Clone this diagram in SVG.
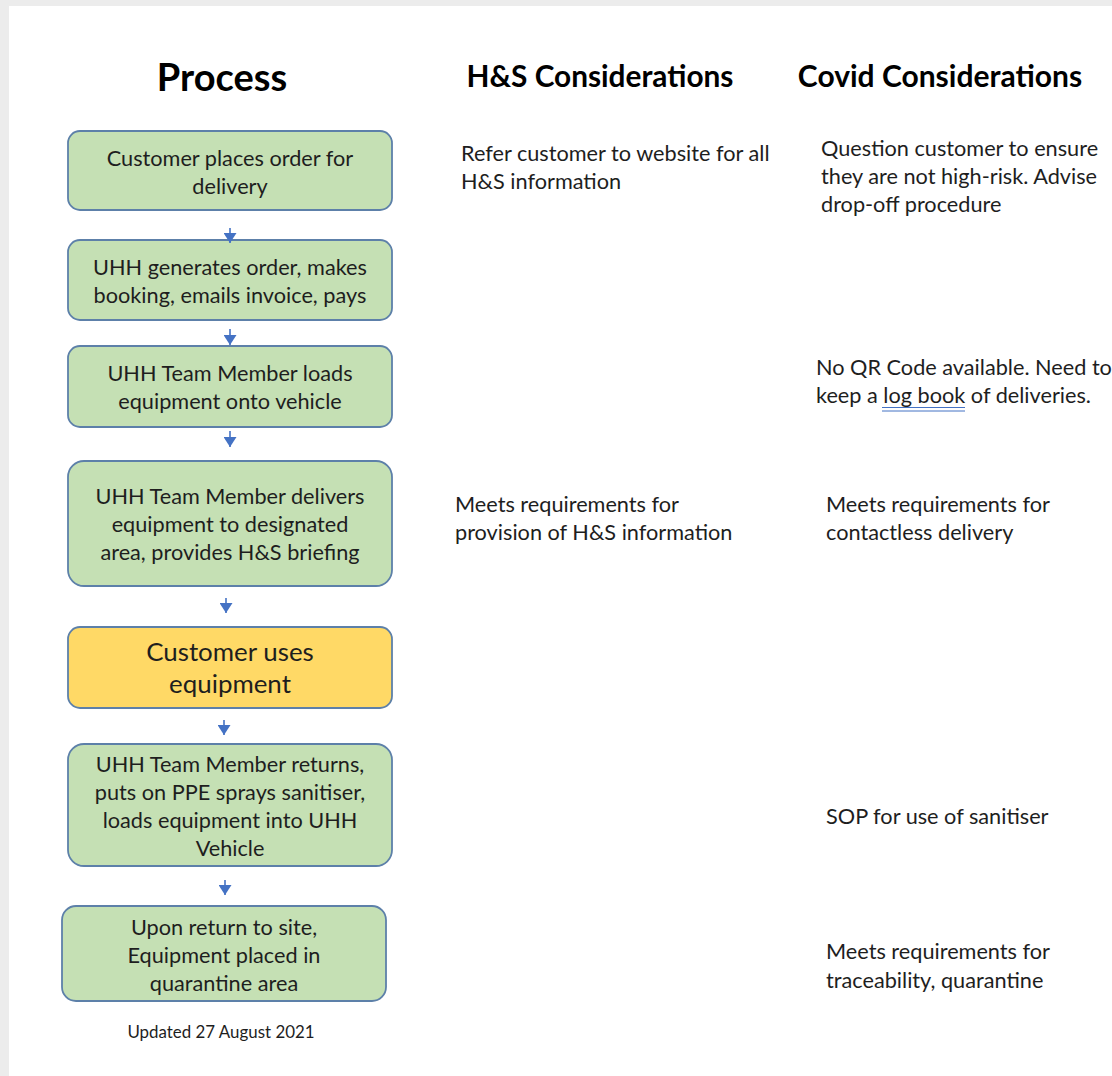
<svg xmlns="http://www.w3.org/2000/svg" width="1112" height="1076" viewBox="0 0 1112 1076">
<defs>
<style>
.t{font-family:Lato,"Liberation Sans",sans-serif;font-size:21.7px;fill:#1e1e1e}
.c{text-anchor:middle}
.big{font-size:25.9px}
.small{font-size:16.9px}
.h{font-family:Lato,"Liberation Sans",sans-serif;font-weight:bold;fill:#000}
.g{fill:#c5e0b4;stroke:#5d80a9;stroke-width:1.8}
.y{fill:#ffd966;stroke:#5d80a9;stroke-width:1.8}
.a{stroke:#4472c4;stroke-width:1.6;fill:none;marker-end:url(#ah)}
</style>
<marker id="ah" markerWidth="10" markerHeight="13" refX="10" refY="6.5" orient="auto" markerUnits="userSpaceOnUse" viewBox="0 0 10 13">
<path d="M0,0 L10,6.5 L0,13 Z" fill="#4472c4"/>
</marker>
</defs>
<rect x="0" y="0" width="1112" height="1076" fill="#ececec"/>
<rect x="9" y="6" width="1103" height="1070" fill="#ffffff"/>

<g id="headers">
<text class="h c" x="222" y="91" font-size="38">Process</text>
<text class="h c" x="600" y="87" font-size="29.8">H&amp;S Considerations</text>
<text class="h c" x="940" y="87" font-size="30">Covid Considerations</text>
</g>

<g id="n1"><rect class="g" x="68" y="131" width="324" height="79" rx="12"/>
<text class="t c" x="230" y="166">Customer places order for</text>
<text class="t c" x="230" y="194">delivery</text></g>

<g id="n2"><rect class="g" x="68" y="240" width="324" height="80" rx="12"/>
<text class="t c" x="230" y="275">UHH generates order, makes</text>
<text class="t c" x="230" y="303">booking, emails invoice, pays</text></g>

<g id="n3"><rect class="g" x="68" y="346" width="324" height="81" rx="12"/>
<text class="t c" x="230" y="381">UHH Team Member loads</text>
<text class="t c" x="230" y="409">equipment onto vehicle</text></g>

<g id="n4"><rect class="g" x="68" y="461" width="324" height="125" rx="16"/>
<text class="t c" x="230" y="504">UHH Team Member delivers</text>
<text class="t c" x="230" y="532">equipment to designated</text>
<text class="t c" x="230" y="560">area, provides H&amp;S briefing</text></g>

<g id="n5"><rect class="y" x="68" y="627" width="324" height="81" rx="12"/>
<text class="t c big" x="230" y="661">Customer uses</text>
<text class="t c big" x="230" y="693">equipment</text></g>

<g id="n6"><rect class="g" x="68" y="744" width="324" height="122" rx="16"/>
<text class="t c" x="230" y="772">UHH Team Member returns,</text>
<text class="t c" x="230" y="800">puts on PPE sprays sanitiser,</text>
<text class="t c" x="230" y="828">loads equipment into UHH</text>
<text class="t c" x="230" y="856">Vehicle</text></g>

<g id="n7"><rect class="g" x="62" y="906" width="324" height="95" rx="14"/>
<text class="t c" x="224" y="935">Upon return to site,</text>
<text class="t c" x="224" y="963">Equipment placed in</text>
<text class="t c" x="224" y="991">quarantine area</text></g>

<g id="footer"><text class="t c small" x="221" y="1038">Updated 27 August 2021</text></g>

<g id="connectors">
<line class="a" x1="230" y1="228" x2="230" y2="243"/>
<line class="a" x1="230" y1="329" x2="230" y2="345"/>
<line class="a" x1="230" y1="431" x2="230" y2="447"/>
<line class="a" x1="226" y1="598" x2="226" y2="613"/>
<line class="a" x1="224" y1="720" x2="224" y2="735"/>
<line class="a" x1="225" y1="880" x2="225" y2="895"/>
</g>

<g id="hs">
<text class="t" x="461" y="161">Refer customer to website for all</text>
<text class="t" x="461" y="189">H&amp;S information</text>
<text class="t" x="455" y="512">Meets requirements for</text>
<text class="t" x="455" y="540">provision of H&amp;S information</text>
</g>

<g id="covid">
<text class="t" x="821" y="156">Question customer to ensure</text>
<text class="t" x="821" y="184">they are not high-risk. Advise</text>
<text class="t" x="821" y="212">drop-off procedure</text>
<text class="t" x="816" y="375">No QR Code available. Need to</text>
<text class="t" x="816" y="403">keep a log book of deliveries.</text>
<line x1="882" y1="407.5" x2="965" y2="407.5" stroke="#4472c4" stroke-width="1"/>
<line x1="882" y1="411" x2="965" y2="411" stroke="#4472c4" stroke-width="1"/>
<text class="t" x="826" y="512">Meets requirements for</text>
<text class="t" x="826" y="540">contactless delivery</text>
<text class="t" x="826" y="824">SOP for use of sanitiser</text>
<text class="t" x="826" y="959">Meets requirements for</text>
<text class="t" x="826" y="988">traceability, quarantine</text>
</g>
</svg>
